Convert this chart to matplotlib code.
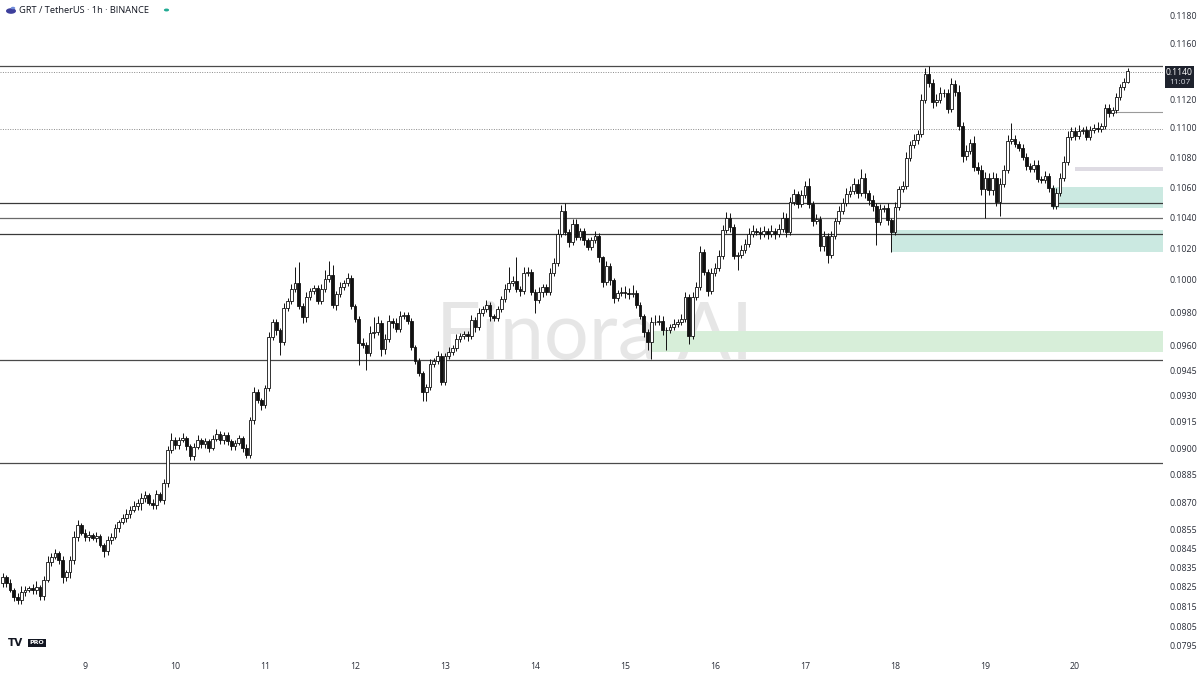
import matplotlib
matplotlib.use("Agg")
import matplotlib.pyplot as plt
from matplotlib.patches import Rectangle, Circle
from matplotlib.ticker import NullLocator
import matplotlib.transforms as mtransforms

# ---------------- data (GRT/USDT, 1h candles) ----------------
first_open = 0.08275
closes = [
    0.08307, 0.08275, 0.08239, 0.08203, 0.08187, 0.08229, 0.08239, 0.08249, 0.08239, 0.08255,
    0.08208, 0.08291, 0.08385, 0.08411, 0.08432, 0.08395, 0.08307, 0.08333, 0.08395, 0.08517,
    0.08581, 0.08539, 0.08517, 0.08528, 0.08512, 0.08522, 0.08474, 0.08442, 0.08501, 0.08517,
    0.08565, 0.08597, 0.08619, 0.08640, 0.08662, 0.08684, 0.08700, 0.08728, 0.08745, 0.08700,
    0.08690, 0.08750, 0.08717, 0.08810, 0.08995, 0.09051, 0.09023, 0.09051, 0.09062, 0.09017,
    0.08961, 0.09012, 0.09051, 0.09028, 0.09045, 0.09006, 0.09057, 0.09085, 0.09051, 0.09079,
    0.09045, 0.09017, 0.09034, 0.09062, 0.09006, 0.08967, 0.09165, 0.09327, 0.09281, 0.09252,
    0.09351, 0.09655, 0.09746, 0.09697, 0.09625, 0.09832, 0.09875, 0.09950, 0.09987, 0.09845,
    0.09777, 0.09900, 0.09938, 0.09956, 0.09875, 0.09950, 0.10012, 0.10038, 0.09851, 0.09919,
    0.09962, 0.09987, 0.10019, 0.09845, 0.09764, 0.09619, 0.09607, 0.09559, 0.09679, 0.09685,
    0.09740, 0.09583, 0.09643, 0.09752, 0.09740, 0.09703, 0.09783, 0.09789, 0.09752, 0.09595,
    0.09511, 0.09439, 0.09327, 0.09357, 0.09493, 0.09511, 0.09541, 0.09386, 0.09541, 0.09565,
    0.09589, 0.09643, 0.09661, 0.09673, 0.09661, 0.09758, 0.09715, 0.09801, 0.09826, 0.09851,
    0.09783, 0.09770, 0.09826, 0.09888, 0.09950, 0.09987, 0.10000, 0.09950, 0.09938, 0.10050,
    0.10056, 0.09931, 0.09881, 0.09931, 0.09962, 0.09931, 0.10050, 0.10113, 0.10299, 0.10448,
    0.10312, 0.10247, 0.10364, 0.10280, 0.10318, 0.10260, 0.10215, 0.10260, 0.10286, 0.10151,
    0.09994, 0.10094, 0.10006, 0.09894, 0.09925, 0.09931, 0.09925, 0.09919, 0.09925, 0.09851,
    0.09783, 0.09685, 0.09625, 0.09746, 0.09746, 0.09752, 0.09697, 0.09697, 0.09715, 0.09734,
    0.09746, 0.09764, 0.09900, 0.09661, 0.09900, 0.09962, 0.10183, 0.10056, 0.09938, 0.10050,
    0.10082, 0.10158, 0.10325, 0.10403, 0.10345, 0.10158, 0.10164, 0.10196, 0.10234, 0.10299,
    0.10318, 0.10312, 0.10299, 0.10318, 0.10299, 0.10318, 0.10299, 0.10331, 0.10403, 0.10312,
    0.10508, 0.10561, 0.10495, 0.10554, 0.10614, 0.10495, 0.10383, 0.10396, 0.10221, 0.10286,
    0.10164, 0.10286, 0.10383, 0.10448, 0.10501, 0.10561, 0.10581, 0.10627, 0.10567, 0.10667,
    0.10567, 0.10521, 0.10481, 0.10377, 0.10462, 0.10468, 0.10390, 0.10312, 0.10475, 0.10594,
    0.10614, 0.10802, 0.10890, 0.10924, 0.10965, 0.11202, 0.11386, 0.11322, 0.11188, 0.11202,
    0.11251, 0.11251, 0.11139, 0.11315, 0.11258, 0.11021, 0.10815, 0.10849, 0.10904, 0.10741,
    0.10721, 0.10594, 0.10667, 0.10587, 0.10667, 0.10508, 0.10627, 0.10721, 0.10917, 0.10931,
    0.10897, 0.10870, 0.10808, 0.10748, 0.10728, 0.10755, 0.10661, 0.10654, 0.10681, 0.10601,
    0.10481, 0.10567, 0.10667, 0.10775, 0.10945, 0.10986, 0.10951, 0.10986, 0.10993, 0.10945,
    0.10993, 0.11007, 0.11000, 0.11021, 0.11146, 0.11111, 0.11132, 0.11223, 0.11293, 0.11329,
    0.11407,
]
upper_wick = [
    0.0002, 0.0001, 0.0002, 0.0001, 0.0002, 0.0003, 0.0002, 0.0001, 0.0002, 0.0003,
    0.0001, 0.0002, 0.0003, 0.0002, 0.0002, 0.0001, 0.0002, 0.0001, 0.0002, 0.0003,
    0.0003, 0.0001, 0.0002, 0.0002, 0.0001, 0.0002, 0.0001, 0.0001, 0.0002, 0.0002,
    0.0002, 0.0001, 0.0002, 0.0003, 0.0002, 0.0003, 0.0002, 0.0003, 0.0002, 0.0001,
    0.0002, 0.0002, 0.0001, 0.0002, 0.0002, 0.0004, 0.0002, 0.0002, 0.0003, 0.0001,
    0.0001, 0.0002, 0.0003, 0.0001, 0.0002, 0.0001, 0.0002, 0.0003, 0.0002, 0.0002,
    0.0002, 0.0001, 0.0002, 0.0002, 0.0001, 0.0002, 0.0002, 0.0003, 0.0002, 0.0001,
    0.0002, 0.0003, 0.0002, 0.0002, 0.0001, 0.0003, 0.0002, 0.0003, 0.0010, 0.0013,
    0.0002, 0.0003, 0.0002, 0.0002, 0.0002, 0.0003, 0.0006, 0.0009, 0.0006, 0.0002,
    0.0003, 0.0002, 0.0003, 0.0002, 0.0001, 0.0002, 0.0003, 0.0002, 0.0004, 0.0009,
    0.0004, 0.0002, 0.0003, 0.0004, 0.0002, 0.0003, 0.0003, 0.0002, 0.0002, 0.0002,
    0.0001, 0.0002, 0.0001, 0.0002, 0.0003, 0.0002, 0.0003, 0.0002, 0.0002, 0.0003,
    0.0002, 0.0003, 0.0002, 0.0002, 0.0002, 0.0003, 0.0002, 0.0003, 0.0002, 0.0003,
    0.0002, 0.0001, 0.0002, 0.0002, 0.0003, 0.0010, 0.0003, 0.0015, 0.0002, 0.0004,
    0.0003, 0.0002, 0.0002, 0.0003, 0.0002, 0.0002, 0.0003, 0.0003, 0.0003, 0.0004,
    0.0005, 0.0002, 0.0003, 0.0003, 0.0002, 0.0002, 0.0001, 0.0002, 0.0003, 0.0002,
    0.0001, 0.0003, 0.0002, 0.0001, 0.0002, 0.0003, 0.0004, 0.0003, 0.0005, 0.0002,
    0.0002, 0.0001, 0.0002, 0.0003, 0.0004, 0.0004, 0.0003, 0.0002, 0.0002, 0.0003,
    0.0002, 0.0003, 0.0003, 0.0002, 0.0003, 0.0003, 0.0004, 0.0002, 0.0002, 0.0003,
    0.0003, 0.0004, 0.0003, 0.0004, 0.0003, 0.0002, 0.0002, 0.0003, 0.0003, 0.0004,
    0.0004, 0.0002, 0.0003, 0.0003, 0.0002, 0.0004, 0.0002, 0.0003, 0.0004, 0.0003,
    0.0003, 0.0003, 0.0002, 0.0003, 0.0003, 0.0005, 0.0002, 0.0003, 0.0002, 0.0003,
    0.0002, 0.0003, 0.0002, 0.0003, 0.0003, 0.0004, 0.0003, 0.0004, 0.0003, 0.0006,
    0.0003, 0.0002, 0.0003, 0.0002, 0.0003, 0.0002, 0.0003, 0.0001, 0.0003, 0.0002,
    0.0003, 0.0004, 0.0003, 0.0004, 0.0003, 0.0004, 0.0004, 0.0006, 0.0003, 0.0004,
    0.0004, 0.0003, 0.0003, 0.0004, 0.0003, 0.0005, 0.0003, 0.0004, 0.0003, 0.0005,
    0.0003, 0.0003, 0.0004, 0.0003, 0.0004, 0.0003, 0.0004, 0.0003, 0.0004, 0.0011,
    0.0003, 0.0002, 0.0003, 0.0003, 0.0002, 0.0003, 0.0003, 0.0002, 0.0003, 0.0002,
    0.0002, 0.0003, 0.0003, 0.0004, 0.0004, 0.0003, 0.0003, 0.0004, 0.0002, 0.0003,
    0.0003, 0.0003, 0.0004, 0.0002, 0.0003, 0.0003, 0.0002, 0.0003, 0.0002, 0.0003,
    0.0002,
]
lower_wick = [
    0.0002, 0.0002, 0.0001, 0.0002, 0.0002, 0.0002, 0.0002, 0.0001, 0.0002, 0.0002,
    0.0002, 0.0002, 0.0001, 0.0002, 0.0001, 0.0002, 0.0003, 0.0002, 0.0003, 0.0002,
    0.0002, 0.0001, 0.0002, 0.0002, 0.0001, 0.0002, 0.0001, 0.0003, 0.0002, 0.0002,
    0.0001, 0.0002, 0.0001, 0.0002, 0.0002, 0.0001, 0.0002, 0.0004, 0.0002, 0.0001,
    0.0002, 0.0002, 0.0001, 0.0002, 0.0002, 0.0002, 0.0002, 0.0002, 0.0001, 0.0002,
    0.0002, 0.0002, 0.0001, 0.0002, 0.0002, 0.0002, 0.0001, 0.0001, 0.0002, 0.0002,
    0.0002, 0.0002, 0.0002, 0.0001, 0.0002, 0.0002, 0.0002, 0.0002, 0.0002, 0.0003,
    0.0002, 0.0002, 0.0002, 0.0003, 0.0008, 0.0002, 0.0002, 0.0002, 0.0002, 0.0002,
    0.0004, 0.0003, 0.0002, 0.0002, 0.0002, 0.0002, 0.0002, 0.0002, 0.0002, 0.0003,
    0.0002, 0.0002, 0.0002, 0.0002, 0.0002, 0.0013, 0.0002, 0.0010, 0.0002, 0.0003,
    0.0002, 0.0004, 0.0003, 0.0002, 0.0003, 0.0002, 0.0002, 0.0002, 0.0002, 0.0002,
    0.0002, 0.0002, 0.0005, 0.0005, 0.0002, 0.0002, 0.0002, 0.0002, 0.0002, 0.0002,
    0.0002, 0.0002, 0.0002, 0.0002, 0.0003, 0.0002, 0.0003, 0.0002, 0.0002, 0.0002,
    0.0003, 0.0002, 0.0002, 0.0002, 0.0002, 0.0002, 0.0002, 0.0002, 0.0003, 0.0002,
    0.0002, 0.0002, 0.0008, 0.0002, 0.0003, 0.0002, 0.0002, 0.0002, 0.0002, 0.0002,
    0.0002, 0.0003, 0.0002, 0.0002, 0.0002, 0.0003, 0.0002, 0.0002, 0.0002, 0.0003,
    0.0003, 0.0002, 0.0003, 0.0003, 0.0002, 0.0002, 0.0003, 0.0003, 0.0002, 0.0002,
    0.0002, 0.0003, 0.0005, 0.0010, 0.0002, 0.0002, 0.0003, 0.0012, 0.0002, 0.0002,
    0.0002, 0.0002, 0.0002, 0.0005, 0.0002, 0.0002, 0.0002, 0.0002, 0.0003, 0.0002,
    0.0002, 0.0002, 0.0002, 0.0002, 0.0003, 0.0002, 0.0009, 0.0002, 0.0002, 0.0002,
    0.0002, 0.0002, 0.0003, 0.0002, 0.0003, 0.0002, 0.0003, 0.0002, 0.0002, 0.0003,
    0.0002, 0.0002, 0.0003, 0.0002, 0.0002, 0.0003, 0.0003, 0.0002, 0.0003, 0.0003,
    0.0005, 0.0002, 0.0002, 0.0002, 0.0002, 0.0002, 0.0002, 0.0002, 0.0003, 0.0002,
    0.0003, 0.0003, 0.0003, 0.0015, 0.0002, 0.0002, 0.0003, 0.0013, 0.0002, 0.0002,
    0.0002, 0.0002, 0.0002, 0.0002, 0.0003, 0.0002, 0.0002, 0.0003, 0.0004, 0.0003,
    0.0002, 0.0003, 0.0003, 0.0002, 0.0003, 0.0003, 0.0004, 0.0003, 0.0002, 0.0003,
    0.0003, 0.0004, 0.0019, 0.0003, 0.0003, 0.0003, 0.0009, 0.0002, 0.0002, 0.0002,
    0.0002, 0.0002, 0.0002, 0.0003, 0.0002, 0.0002, 0.0002, 0.0002, 0.0002, 0.0003,
    0.0002, 0.0002, 0.0002, 0.0002, 0.0002, 0.0002, 0.0003, 0.0002, 0.0002, 0.0002,
    0.0002, 0.0002, 0.0002, 0.0002, 0.0002, 0.0003, 0.0002, 0.0002, 0.0002, 0.0002,
    0.0001,
]
first_hour_offset = -22            # first candle = day 8, 02:00
day_labels = [9, 10, 11, 12, 13, 14, 15, 16, 17, 18, 19, 20]
price_ticks = [0.1180, 0.1160, 0.1120, 0.1100, 0.1080, 0.1060, 0.1040, 0.1020, 0.1000,
               0.0980, 0.0960, 0.0945, 0.0930, 0.0915, 0.0900, 0.0885, 0.0870, 0.0855,
               0.0845, 0.0835, 0.0825, 0.0815, 0.0805, 0.0795]
last_price_label = "0.1140"
countdown_label = "11:07"

# horizontal levels (price) and zones (start hour index, low, high)
solid_levels = [(0.11445, '#4a4a4a'), (0.10500, '#3a3a3a'), (0.10404, '#6a6a6a'),
                (0.10297, '#3a3a3a'), (0.09517, '#4a4a4a'), (0.08921, '#4a4a4a')]
dotted_levels = [0.11400, 0.11000]
zones = [(172.9, 0.09565, 0.09691, '#d7eed9'),
         (237.2, 0.10183, 0.10325, '#cbe9e1'),
         (279.9, 0.10468, 0.10607, '#cbe9e1'),
         (286.0, 0.10712, 0.10738, '#dedbe3')]
short_level = (295.3, 0.11118)

# ---------------- figure ----------------
W, H = 1200, 675
fig = plt.figure(figsize=(W / 100, H / 100), dpi=100)
fig.patch.set_facecolor('white')
plot_right = 1163
plot_bottom = 655
ax = fig.add_axes([0, (H - plot_bottom) / H, plot_right / W, plot_bottom / H])
ax.set_facecolor('white')
ax.set_yscale('log')
ax.set_ylim(0.07910, 0.11926)
xmin = -0.667
xmax = xmin + plot_right / 3.75
ax.set_xlim(xmin, xmax)
for s in ax.spines.values():
    s.set_visible(False)

n = len(closes)
idx = list(range(n))
opens = [first_open] + closes[:-1]
highs = [max(o, c) + u for o, c, u in zip(opens, closes, upper_wick)]
lows = [min(o, c) - l for o, c, l in zip(opens, closes, lower_wick)]

# watermark
ax.text(0.5 * (xmin + xmax) + 3.5, 0.09655, "Finora AI", fontsize=57,
        color='#e6e6e6', ha='center', va='center', family='Lato', fontweight='normal',
        zorder=0)

# zones
for x0, lo, hi, col in zones:
    ax.add_patch(Rectangle((x0, lo), 400, hi - lo, facecolor=col, edgecolor='none', zorder=1))
# levels
for p, col in solid_levels:
    ax.axhline(p, color=col, lw=0.9, zorder=1.5)
for p in dotted_levels:
    ax.axhline(p, color='#8a8a8a', lw=0.7, ls=(0, (1, 1.5)), zorder=1.5)
ax.plot([short_level[0], 400], [short_level[1]] * 2, color='#9a9a9a', lw=0.8, zorder=1.5)

# candles
ax.vlines(idx, lows, highs, color='#111111', lw=0.7, zorder=2)
bw = 0.72
for i in idx:
    o, c = opens[i], closes[i]
    bottom = min(o, c)
    h = max(abs(c - o), 0.000012)
    face = 'white' if c >= o else '#111111'
    ax.add_patch(Rectangle((i - bw / 2, bottom), bw, h, facecolor=face,
                           edgecolor='#111111', lw=0.6, zorder=3))

# price axis labels (drawn as text at the right of the plot)
ax.yaxis.set_major_locator(NullLocator())
ax.yaxis.set_minor_locator(NullLocator())
ytrans = mtransforms.blended_transform_factory(fig.transFigure, ax.transData)
for t in price_ticks:
    fig.text(1170 / W, t, f"{t:.4f}", transform=ytrans, fontsize=6.3, color='#2a2e39',
             ha='left', va='center', family='Open Sans')

day_pos = [24 * (d - 9) - first_hour_offset for d in day_labels]
ax.set_xticks(day_pos)
ax.set_xticklabels([str(d) for d in day_labels])
ax.xaxis.set_minor_locator(NullLocator())
ax.tick_params(axis='x', length=0, pad=5, labelsize=6.3, colors='#2a2e39')
for lab in ax.get_xticklabels():
    lab.set_family('Open Sans')

# price tag
def fx(px):
    return px / W

def fy(py):
    return 1 - py / H

fig.add_artist(Rectangle((fx(1165), fy(88)), 29 / W, 22 / H, transform=fig.transFigure,
                         facecolor='#1e222d', edgecolor='none'))
fig.text(fx(1179.5), fy(72.5), last_price_label, color='white', fontsize=6.2,
         ha='center', va='center', family='Open Sans')
fig.text(fx(1179.5), fy(82), countdown_label, color='#d0d3da', fontsize=6.0,
         ha='center', va='center', family='Open Sans')

# title
fig.add_artist(Circle((fx(11), fy(11)), 5 / W, transform=fig.transFigure,
                      facecolor='#3d3f9c', edgecolor='none'))
fig.add_artist(Circle((fx(13), fy(8)), 2.2 / W, transform=fig.transFigure,
                      facecolor='#6f8bd9', edgecolor='none'))
fig.text(fx(19), fy(10.5), "GRT / TetherUS · 1h · BINANCE", fontsize=6.7, color='#131722',
         ha='left', va='center', family='Open Sans')
fig.add_artist(Circle((fx(166.5), fy(10)), 2.6 / W, transform=fig.transFigure,
                      facecolor='#22ab94', edgecolor='none'))

# TradingView logo
fig.text(fx(8), fy(643), "TV", fontsize=7.5, fontweight='black', color='#131722',
         ha='left', va='center', family='DejaVu Sans')
fig.text(fx(37), fy(643), "PRO", fontsize=4.5, fontweight='bold', color='white',
         ha='center', va='center', family='DejaVu Sans',
         bbox=dict(boxstyle='square,pad=0.25', facecolor='#131722', edgecolor='none'))

fig.savefig('out.png', dpi=100, facecolor='white')
